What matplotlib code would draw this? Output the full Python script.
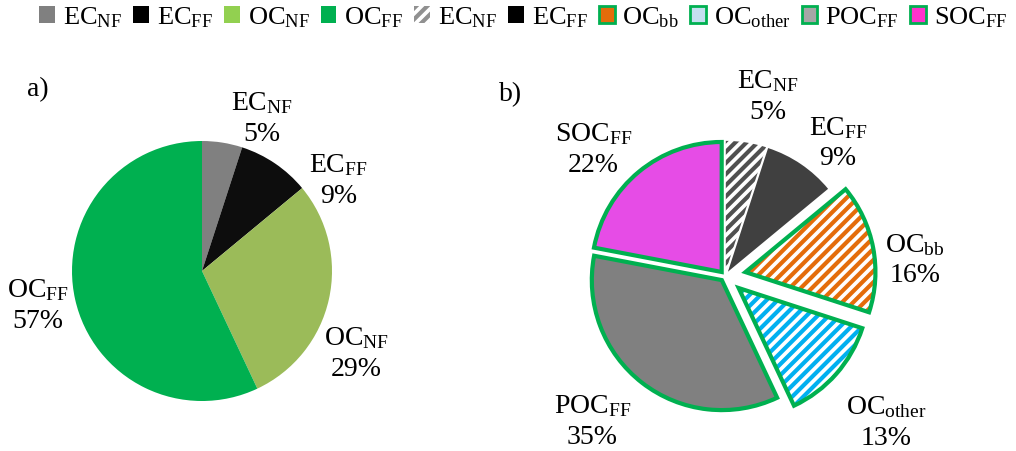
import matplotlib.pyplot as plt
from matplotlib.patches import Patch, Wedge

plt.rcParams['font.family'] = ['Liberation Serif', 'DejaVu Serif']
plt.rcParams['mathtext.fontset'] = 'custom'
plt.rcParams['mathtext.rm'] = 'Liberation Serif'
plt.rcParams['mathtext.it'] = 'Liberation Serif:italic'
plt.rcParams['hatch.linewidth'] = 3.0

# 数据
labels_a = [r'EC$_{\mathrm{NF}}$', r'EC$_{\mathrm{FF}}$', r'OC$_{\mathrm{NF}}$', r'OC$_{\mathrm{FF}}$']
values_a = [5, 9, 29, 57]
colors_a = ['#808080', '#0d0d0d', '#9bbb59', '#00b050']
textpos_a = [(0.46, 1.18), (1.05, 0.7), (1.19, -0.63), (-1.26, -0.26)]

labels_b = [r'EC$_{\mathrm{NF}}$', r'EC$_{\mathrm{FF}}$', r'OC$_{\mathrm{bb}}$',
            r'OC$_{\mathrm{other}}$', r'POC$_{\mathrm{FF}}$', r'SOC$_{\mathrm{FF}}$']
values_b = [5, 9, 16, 13, 35, 22]
explode_b = [0.04, 0.04, 0.16, 0.14, 0.04, 0.04]
textpos_b = [(0.33, 1.39), (0.87, 1.03), (1.46, 0.13), (1.24, -1.12), (-1.02, -1.11), (-1.01, 0.98)]

green = '#00b050'
fs = 20

fig = plt.figure(figsize=(10.16, 4.52), dpi=100)

# 图 a
ax1 = fig.add_axes([0, 0, 400 / 1016, 402 / 452])
ax1.pie(values_a, colors=colors_a, startangle=90, counterclock=False, radius=1,
        wedgeprops=dict(linewidth=0))
for lab, v, (x, y) in zip(labels_a, values_a, textpos_a):
    ax1.text(x, y, lab + '\n' + f'{v}%', ha='center', va='center', fontsize=fs,
             linespacing=1.3)
ax1.set_xlim(-202 / 130, 198 / 130)
ax1.set_ylim(-180 / 130, 222 / 130)
ax1.text(-1.26, 1.4, 'a)', fontsize=fs, ha='center', va='center')

# 图 b
ax2 = fig.add_axes([500 / 1016, 0, 516 / 1016, 402 / 452])
wedges, _ = ax2.pie(values_b, explode=explode_b, startangle=90, counterclock=False,
                    radius=1, wedgeprops=dict(linewidth=0))
styles = [
    dict(fc='white', hatch='///', hc='#505050', edge=None),
    dict(fc='#404040', hatch=None, hc=None, edge=None),
    dict(fc='white', hatch='///', hc='#e46c0a', edge=green),
    dict(fc='white', hatch='///', hc='#00b0f0', edge=green),
    dict(fc='#808080', hatch=None, hc=None, edge=green),
    dict(fc='#e64ce6', hatch=None, hc=None, edge=green),
]
for w, s in zip(wedges, styles):
    w.set_facecolor(s['fc'])
    if s['hatch']:
        w.set_hatch(s['hatch'])
        w.set_edgecolor(s['hc'])
        w.set_linewidth(0)
    if s['edge']:
        ax2.add_patch(Wedge(w.center, w.r, w.theta1, w.theta2, fill=False,
                            edgecolor=s['edge'], linewidth=3, joinstyle='miter'))
for lab, v, (x, y) in zip(labels_b, values_b, textpos_b):
    ax2.text(x, y, lab + '\n' + f'{v}%', ha='center', va='center', fontsize=fs,
             linespacing=1.3)
ax2.set_xlim(-225 / 130, 291 / 130)
ax2.set_ylim(-175 / 130, 227 / 130)
ax2.text(-1.65, 1.4, 'b)', fontsize=fs, ha='center', va='center')

# 图例
handles = [
    Patch(facecolor='#808080', edgecolor='none'),
    Patch(facecolor='black', edgecolor='none'),
    Patch(facecolor='#92d050', edgecolor='none'),
    Patch(facecolor='#00b050', edgecolor='none'),
    Patch(facecolor='white', edgecolor='#909090', hatch='///', linewidth=0),
    Patch(facecolor='black', edgecolor='none'),
    Patch(facecolor='#e46c0a', edgecolor=green, linewidth=2),
    Patch(facecolor='#c5dff0', edgecolor=green, linewidth=2),
    Patch(facecolor='#a6a6a6', edgecolor=green, linewidth=2),
    Patch(facecolor='#ff33cc', edgecolor=green, linewidth=2),
]
leg_labels = labels_a + labels_b
fig.legend(handles, leg_labels, loc='upper center', bbox_to_anchor=(0.515, 1.04),
           ncol=10, frameon=False, fontsize=19, handlelength=0.6, handleheight=0.6,
           handletextpad=0.3, columnspacing=0.42)

fig.savefig('out.png', dpi=100)
